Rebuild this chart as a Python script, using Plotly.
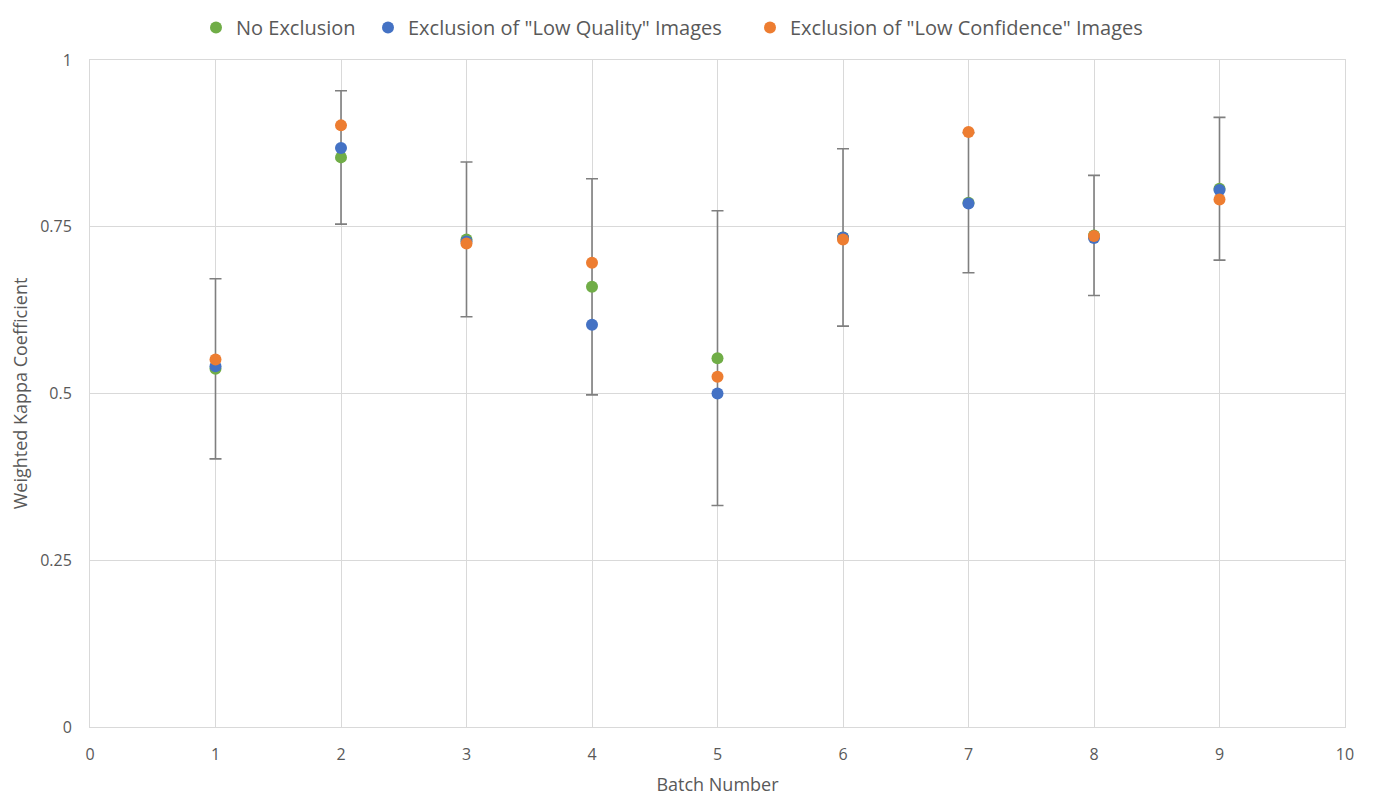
import plotly.graph_objects as go

batches = [1, 2, 3, 4, 5, 6, 7, 8, 9]
no_exclusion = [0.537, 0.854, 0.731, 0.660, 0.553, 0.734, 0.786, 0.737, 0.807]
no_exclusion_err = [0.135, 0.100, 0.116, 0.162, 0.221, 0.133, 0.105, 0.090, 0.107]
low_quality = [0.541, 0.868, 0.728, 0.603, 0.500, 0.734, 0.785, 0.733, 0.805]
low_confidence = [0.551, 0.902, 0.725, 0.696, 0.525, 0.731, 0.892, 0.736, 0.791]

series_names = ["No Exclusion", 'Exclusion of "Low Quality" Images', 'Exclusion of "Low Confidence" Images']
colors = ["#70AD47", "#4472C4", "#ED7D31"]

x_ticks = [0, 1, 2, 3, 4, 5, 6, 7, 8, 9, 10]
y_ticks = [0, 0.25, 0.5, 0.75, 1]
y_tick_labels = ["0", "0.25", "0.5", "0.75", "1"]

fig = go.Figure()
fig.add_trace(go.Scatter(
    x=batches, y=no_exclusion, mode="markers", name=series_names[0],
    marker=dict(color=colors[0], size=12), legend="legend",
    error_y=dict(type="data", array=no_exclusion_err, visible=True,
                 color="#7F7F7F", thickness=1.6, width=6),
))
fig.add_trace(go.Scatter(
    x=batches, y=low_quality, mode="markers", name=series_names[1],
    marker=dict(color=colors[1], size=12), legend="legend2",
))
fig.add_trace(go.Scatter(
    x=batches, y=low_confidence, mode="markers", name=series_names[2],
    marker=dict(color=colors[2], size=12), legend="legend3",
))

W = 1367
H = 790
legend_common = dict(orientation="h", xanchor="left", yanchor="top", y=1.0,
                     xref="container", yref="container",
                     font=dict(size=20, color="#595959"), itemsizing="constant",
                     bgcolor="rgba(0,0,0,0)")
legend_x_px = [188, 360, 742]

font_family = "Open Sans"
fig.update_layout(
    width=W, height=H,
    margin=dict(l=82, r=30, t=52, b=71, autoexpand=False),
    paper_bgcolor="white", plot_bgcolor="white",
    font=dict(family=font_family, color="#595959", size=16),
    legend=dict(x=legend_x_px[0] / W, **legend_common),
    legend2=dict(x=legend_x_px[1] / W, **legend_common),
    legend3=dict(x=legend_x_px[2] / W, **legend_common),
    showlegend=True,
)
fig.update_xaxes(
    range=[0, 10], tickvals=x_ticks, showgrid=True, gridcolor="#D9D9D9", gridwidth=1,
    zeroline=False, showline=True, linecolor="#D9D9D9", linewidth=1, mirror=True,
    ticks="", ticklabelstandoff=13, tickfont=dict(size=16, color="#595959"), automargin=False,
    title=dict(text="Batch Number", font=dict(size=18, color="#595959"), standoff=14),
)
fig.update_yaxes(
    range=[0, 1], tickvals=y_ticks, ticktext=y_tick_labels, showgrid=True,
    gridcolor="#D9D9D9", gridwidth=1, zeroline=False, showline=True,
    linecolor="#D9D9D9", linewidth=1, mirror=True, ticks="", automargin=False,
    ticklabelstandoff=14, tickfont=dict(size=16, color="#595959"),
    title=dict(text="Weighted Kappa Coefficient", font=dict(size=18, color="#595959"), standoff=22),
)

fig.write_html("out.html")
